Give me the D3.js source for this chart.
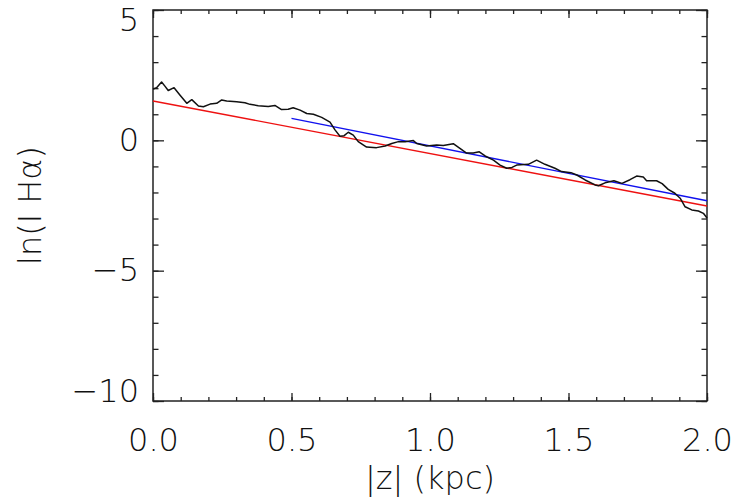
<!DOCTYPE html>
<html>
<head>
<meta charset="utf-8">
<script src="https://cdn.jsdelivr.net/npm/d3@7"></script>
<style>
  body { margin: 0; background: #fff; }
  svg text { font-family: "DejaVu Sans", sans-serif; font-weight: 200; fill: #111; }
</style>
</head>
<body>
<div id="chart"></div>
<script>
// |z| in kpc and measured ln(I Halpha) profile
const zVals = [0.000, 0.013, 0.031, 0.043, 0.055, 0.076, 0.097, 0.122, 0.140, 0.164,
  0.182, 0.206, 0.230, 0.248, 0.266, 0.302, 0.332, 0.350, 0.380, 0.416,
  0.440, 0.464, 0.488, 0.506, 0.531, 0.555, 0.579, 0.609, 0.639, 0.657,
  0.675, 0.690, 0.705, 0.723, 0.741, 0.771, 0.807, 0.838, 0.862, 0.886,
  0.910, 0.940, 0.952, 0.988, 1.024, 1.048, 1.084, 1.108, 1.132, 1.156,
  1.178, 1.199, 1.229, 1.253, 1.277, 1.296, 1.313, 1.355, 1.385, 1.415,
  1.451, 1.475, 1.509, 1.530, 1.560, 1.596, 1.608, 1.632, 1.664, 1.693,
  1.722, 1.746, 1.770, 1.782, 1.818, 1.838, 1.860, 1.884, 1.903, 1.921,
  1.945, 1.969, 1.987, 2.000];
const lnI = [1.97, 2.02, 2.24, 2.08, 1.91, 2.02, 1.74, 1.42, 1.56, 1.32,
  1.29, 1.39, 1.42, 1.55, 1.51, 1.48, 1.44, 1.38, 1.33, 1.30,
  1.34, 1.18, 1.19, 1.25, 1.16, 1.03, 1.00, 0.88, 0.70, 0.40,
  0.16, 0.18, 0.31, 0.20, -0.05, -0.26, -0.28, -0.22, -0.12, -0.05,
  -0.05, -0.01, -0.12, -0.22, -0.18, -0.20, -0.13, -0.31, -0.49, -0.49,
  -0.44, -0.60, -0.76, -0.95, -1.07, -1.04, -0.95, -0.92, -0.76, -0.92,
  -1.07, -1.20, -1.24, -1.33, -1.52, -1.71, -1.74, -1.63, -1.55, -1.65,
  -1.51, -1.37, -1.41, -1.55, -1.55, -1.66, -1.88, -2.03, -2.22, -2.55,
  -2.67, -2.71, -2.80, -2.98];

// straight-line fits (end points)
const redFitZ = [0.0, 2.0];
const redFitV = [1.51, -2.52];
const blueFitZ = [0.5, 2.0];
const blueFitV = [0.84, -2.32];

// ticks
const xMajor = [0.0, 0.5, 1.0, 1.5, 2.0];
const xMinor = d3.range(0, 2.0001, 0.1);
const yMajor = [-10, -5, 0, 5];
const yMinor = d3.range(-10, 5.001, 1);

const W = 735, H = 504;
const margin = { top: 10, right: 28, bottom: 103, left: 153 };
const width = W - margin.left - margin.right;
const height = H - margin.top - margin.bottom;

const svg = d3.select("#chart").append("svg")
  .attr("width", W)
  .attr("height", H);

const g = svg.append("g")
  .attr("transform", `translate(${margin.left},${margin.top})`);

const x = d3.scaleLinear().domain([0, 2]).range([0, width]);
const y = d3.scaleLinear().domain([-10, 5]).range([height, 0]);

function styleAxis(sel) {
  sel.select(".domain").remove();
  sel.selectAll("line").attr("stroke", "#222").attr("stroke-width", 1.3);
  sel.selectAll("text").style("font-size", "32px").attr("fill", "#111");
}

// bottom
g.append("g").attr("transform", `translate(0,${height})`)
  .call(d3.axisBottom(x).tickValues(xMinor).tickSize(-4).tickFormat(""))
  .call(styleAxis);
g.append("g").attr("transform", `translate(0,${height})`)
  .call(d3.axisBottom(x).tickValues(xMajor).tickSize(-8).tickPadding(27).tickFormat(d3.format(".1f")))
  .call(styleAxis);
// top
g.append("g")
  .call(d3.axisTop(x).tickValues(xMinor).tickSize(-4).tickFormat(""))
  .call(styleAxis);
g.append("g")
  .call(d3.axisTop(x).tickValues(xMajor).tickSize(-8).tickFormat(""))
  .call(styleAxis);
// left
g.append("g")
  .call(d3.axisLeft(y).tickValues(yMinor).tickSize(-5.5).tickFormat(""))
  .call(styleAxis);
const yAx = g.append("g")
  .call(d3.axisLeft(y).tickValues(yMajor).tickSize(-11).tickPadding(14).tickFormat(d3.format("d")))
  .call(styleAxis);
yAx.selectAll(".tick text")
  .attr("dy", d => d === 5 ? "0.64em" : d === -10 ? "0.0em" : "0.32em");
// right
g.append("g").attr("transform", `translate(${width},0)`)
  .call(d3.axisRight(y).tickValues(yMinor).tickSize(-5.5).tickFormat(""))
  .call(styleAxis);
g.append("g").attr("transform", `translate(${width},0)`)
  .call(d3.axisRight(y).tickValues(yMajor).tickSize(-11).tickFormat(""))
  .call(styleAxis);

// frame
g.append("rect")
  .attr("width", width)
  .attr("height", height)
  .attr("fill", "none")
  .attr("stroke", "#222")
  .attr("stroke-width", 1.5);

const line = d3.line().x(d => x(d[0])).y(d => y(d[1]));

g.append("path")
  .datum(d3.zip(redFitZ, redFitV))
  .attr("d", line)
  .attr("fill", "none")
  .attr("stroke", "#ee1111")
  .attr("stroke-width", 1.4);

g.append("path")
  .datum(d3.zip(blueFitZ, blueFitV))
  .attr("d", line)
  .attr("fill", "none")
  .attr("stroke", "#1111ee")
  .attr("stroke-width", 1.4);

g.append("path")
  .datum(d3.zip(zVals, lnI))
  .attr("d", line)
  .attr("fill", "none")
  .attr("stroke", "#111")
  .attr("stroke-width", 1.5)
  .attr("stroke-linejoin", "round");

// axis titles
svg.append("text")
  .attr("x", margin.left + width / 2)
  .attr("y", 489)
  .attr("text-anchor", "middle")
  .style("font-size", "32px")
  .text("|z| (kpc)");

svg.append("text")
  .attr("transform", `translate(41,${margin.top + height / 2}) rotate(-90)`)
  .attr("text-anchor", "middle")
  .style("font-size", "32px")
  .text("ln(I Hα)");
</script>
</body>
</html>
